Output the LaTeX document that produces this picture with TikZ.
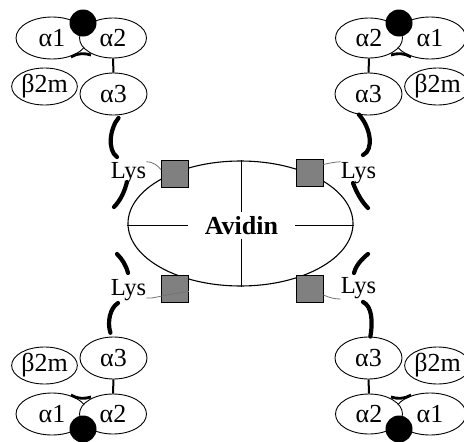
\documentclass[tikz,border=0pt]{standalone}
\usepackage{fontspec}
\setmainfont{Liberation Serif}
\usetikzlibrary{shapes.geometric,calc}
\begin{document}
\begin{tikzpicture}[x=1pt,y=-1pt,
  dom/.style={ellipse,draw,fill=white,line width=0.9pt,inner sep=0pt,
    font=\fontsize{26}{26}\selectfont},
  hinge/.style={circle,fill=black,inner sep=0pt,minimum size=27pt},
  chain/.style={line width=4.2pt,line cap=round},
  link/.style={line width=2pt},
  anchorbox/.style={rectangle,draw,fill=black!50,line width=0.8pt,
    minimum size=27pt,inner sep=0pt},
  lyslabel/.style={inner sep=0pt,anchor=base,font=\fontsize{24.5}{24.5}\selectfont},
  tether/.style={draw=black!55,line width=0.8pt},
  core/.style={line width=1.1pt},
]
\useasboundingbox (0,0) rectangle (464,442);
\clip (0,0) rectangle (464,442);

% four MHC molecules, one per corner (mirror images of each other)
\foreach \g/\sx/\sy/\dx/\dy in {tl/1/1/0/0, tr/-1/1/482/0, bl/1/-1/0/452, br/-1/-1/482/452}{
  \begin{scope}[shift={(\dx,\dy)},xscale=\sx,yscale=\sy]
    \node[dom,minimum width=72pt,minimum height=42pt] (a1\g) at (52,38) {α1};
    \node[dom,minimum width=67pt,minimum height=40pt] (a2\g) at (113,38) {α2};
    \node[hinge] (h\g) at (83,23) {};
    \draw[line width=2.8pt] (71,57) .. controls (77,53) and (85,53) .. (91,55);
    \node[dom,minimum width=65pt,minimum height=37pt] (b\g) at (44.5,86.5) {β2m};
    \node[dom,minimum width=67pt,minimum height=42pt] (a3\g) at (113.5,94) {α3};
    \draw[link] (a2\g) -- (a3\g);
  \end{scope}
}

% avidin core
\node[ellipse,draw,core,minimum width=225pt,minimum height=125pt,inner sep=0pt]
  (av) at (240.5,223.5) {};
\node[inner sep=0pt,minimum width=107pt,minimum height=26pt,
  font=\bfseries\fontsize{26}{26}\selectfont] (avl) at (241.5,225.5) {Avidin};
\draw[core] (avl.north |- av.north) -- (avl.north);
\draw[core] (avl.south) -- (avl.south |- av.south);
\draw[core] (av.west |- avl.west) -- (avl.west);
\draw[core] (avl.east) -- (av.east |- avl.east);

% biotin binding sites
\node[anchorbox] (sq1) at (175,173.5) {};
\node[anchorbox] (sq2) at (309.5,172.5) {};
\node[anchorbox] (sq3) at (175,289) {};
\node[anchorbox] (sq4) at (309.5,288.5) {};

% lysine labels
\node[lyslabel] (l1) at (128.5,178) {Lys};
\node[lyslabel] (l2) at (358.5,178) {Lys};
\node[lyslabel] (l3) at (128.5,295) {Lys};
\node[lyslabel] (l4) at (358.5,293.5) {Lys};

% thin tethers from lysine to binding site
\draw[tether] (l1.north east) .. controls (154,162) and (158,166) .. (sq1.165);
\draw[tether] (sq2.30) .. controls (330,163) and (335,162) .. (l2.north west);
\draw[tether] ($(l3.base east)+(0,3)$) .. controls (153,299) and (157,296) .. (sq3.-10);
\draw[tether] (sq4.-25) .. controls (330,298) and (335,299) .. (l4.south west);

% chain ends near each lysine
\coordinate (e1) at (117,157);
\coordinate (e2) at (363,155);
\coordinate (e3) at (118,303);
\coordinate (e4) at (363,302);
\draw[chain,shorten <=4pt] (a3tl.-70) .. controls (110,128) and (107,150) .. (e1);
\draw[chain] (a3tr.-115) .. controls (371,128) and (374,150) .. (e2);
\draw[chain,shorten <=4pt] (a3bl.95) .. controls (107,322) and (110,308) .. (e3);
\draw[chain] (a3br.85) .. controls (373,322) and (372,306) .. (e4);

% loose chain pieces between the lysines
\draw[chain] (127,182) .. controls (125,190) and (121,200) .. (114,207);
\draw[chain] (353,183) .. controls (356,191) and (361,201) .. (368,208);
\draw[chain] (117,254) .. controls (122,259) and (126,265) .. (128,273);
\draw[chain] (368,254) .. controls (362,259) and (356,265) .. (354,273);
\end{tikzpicture}
\end{document}
